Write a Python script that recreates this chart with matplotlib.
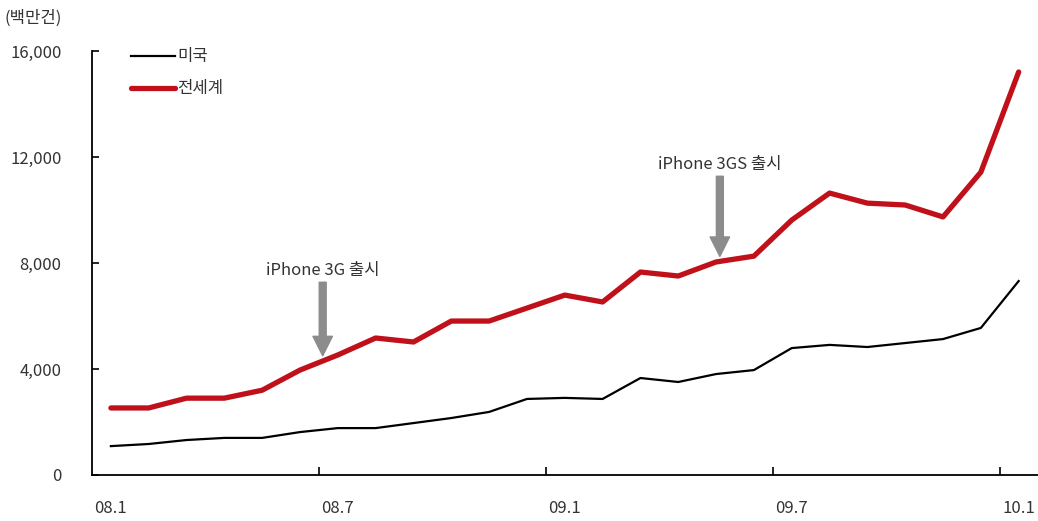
import matplotlib
matplotlib.use("Agg")
from matplotlib import pyplot as plt
import numpy as np

plt.rcParams['font.family'] = ['Noto Sans CJK KR', 'DejaVu Sans']

# monthly, 08.1 ~ 10.1
months = ['08.1', '08.2', '08.3', '08.4', '08.5', '08.6', '08.7', '08.8', '08.9',
          '08.10', '08.11', '08.12', '09.1', '09.2', '09.3', '09.4', '09.5', '09.6',
          '09.7', '09.8', '09.9', '09.10', '09.11', '09.12', '10.1']
us = [1090, 1170, 1320, 1400, 1400, 1620, 1770, 1770, 1960, 2150, 2380, 2870,
      2910, 2870, 3660, 3510, 3810, 3960, 4790, 4910, 4830, 4980, 5130, 5550, 7320]
world = [2530, 2530, 2900, 2900, 3200, 3960, 4530, 5170, 5020, 5810, 5810, 6300,
         6790, 6530, 7660, 7510, 8040, 8260, 9620, 10640, 10260, 10190, 9740, 11430, 15210]
shown_labels = ['08.1', '08.7', '09.1', '09.7', '10.1']
y_ticks = [0, 4000, 8000, 12000, 16000]

txt = '#333333'
red = '#C0101A'

fig = plt.figure(figsize=(10.38, 5.21), dpi=100)
ax = fig.add_axes([0.0886, 0.0883, 0.911, 0.8137])

x = np.arange(len(months))
ax.plot(x, us, color='black', lw=1.6, label='미국')
ax.plot(x, world, color=red, lw=3.8, solid_capstyle='round', label='전세계')

ax.set_xlim(-0.5, len(months) - 0.5)
ax.set_ylim(0, 16000)

# x: labels on categories, tick marks between categories
ax.set_xticks([months.index(m) for m in shown_labels])
ax.set_xticklabels(shown_labels)
ax.set_xticks([months.index(m) - 0.5 for m in shown_labels[1:]], minor=True)
ax.tick_params(axis='x', which='major', length=0, pad=18, labelsize=12, labelcolor=txt)
ax.tick_params(axis='x', which='minor', direction='in', length=6, width=1.2)

ax.set_yticks(y_ticks)
ax.set_yticklabels([f'{v:,}' for v in y_ticks])
ax.tick_params(axis='y', direction='in', length=5, width=1.2, pad=22,
               labelsize=12, labelcolor=txt)

for s in ['top', 'right']:
    ax.spines[s].set_visible(False)
for s in ['left', 'bottom']:
    ax.spines[s].set_linewidth(1.3)

fig.text(0.004, 0.965, '(백만건)', fontsize=12, color=txt, va='center')

leg = ax.legend(loc='upper left', bbox_to_anchor=(0.12, 0.92), bbox_transform=fig.transFigure,
                frameon=False, fontsize=12, handlelength=2.6, handletextpad=0.15,
                labelspacing=0.9, borderaxespad=0)
for t in leg.get_texts():
    t.set_color(txt)

# annotations
arrow = dict(facecolor='#8c8c8c', edgecolor='#8c8c8c', width=5, headwidth=14, headlength=14)
ax.annotate('iPhone 3G 출시', xy=(5.6, 4500), xytext=(5.6, 7700),
            ha='center', va='center', fontsize=12, color=txt, arrowprops=arrow)
ax.annotate('iPhone 3GS 출시', xy=(16.1, 8250), xytext=(16.1, 11700),
            ha='center', va='center', fontsize=12, color=txt, arrowprops=arrow)

fig.savefig('out.png', dpi=100)
